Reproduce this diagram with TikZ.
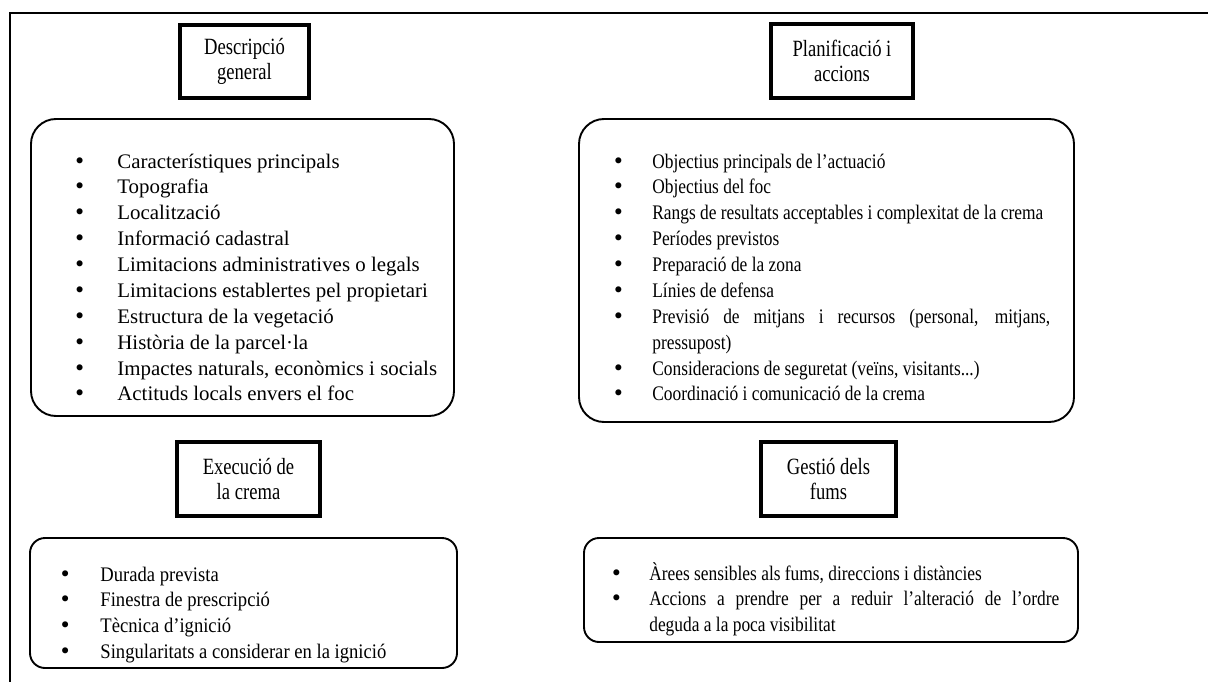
\documentclass[tikz,border=0pt]{standalone}
\usepackage{fontspec}
\setmainfont{Liberation Serif}
\newfontfamily\leftfont[FakeStretch=1.01]{Liberation Serif}
\newfontfamily\rightfont[FakeStretch=0.84]{Liberation Serif}
\newfontfamily\execfont[FakeStretch=0.90]{Liberation Serif}
\newfontfamily\headfont[FakeStretch=0.80]{Liberation Serif}
\newfontfamily\dotfont{DejaVu Sans}
\newcommand{\listsize}{\fontsize{12pt}{15pt}\selectfont}
\newlength{\bindent}
\newcommand{\bdot}{{\dotfont\textbullet}}
\newcommand{\bitem}{\par\noindent\hangindent=\bindent\hangafter=1\strut\makebox[\bindent][l]{\bdot}}

\begin{document}
\begin{tikzpicture}[x=0.58pt, y=-0.58pt,
    head/.style={draw, line width=2.3pt, align=center, inner sep=0pt,
                 font=\headfont\fontsize{13.5pt}{14.5pt}\selectfont},
    frame/.style={draw, line width=1.1pt, rounded corners=#1},
    list/.style={anchor=north west, inner sep=0pt, align=justify, text width=#1}]
\useasboundingbox (0,0) rectangle (1208,682);
% outer frame
\draw[line width=1.1pt] (1208,13) -- (10,13) -- (10,682);

% headings
\node[head, minimum width=75pt, minimum height=42.5pt] (desc) at (244.5,61.5) {Descripció\\general};
\node[head, minimum width=82.5pt, minimum height=43pt] (plan) at (842,61) {Planificació i\\accions};
\node[head, minimum width=83pt, minimum height=43pt] (exec) at (248.5,479) {Execució de\\la crema};
\node[head, minimum width=78.5pt, minimum height=43pt] (fums) at (828.5,479) {Gestió dels\\fums};

% frames
\draw[frame=14.5pt] (31,119) rectangle (454,416);
\draw[frame=14.5pt] (579,119) rectangle (1074,422);
\draw[frame=8.7pt] (30,538) rectangle (457,668);
\draw[frame=8.7pt] (584,538) rectangle (1078,642);

% lists
\node[list=216pt, font=\leftfont\listsize] (desclist) at (73.4,141.9) {\setlength{\bindent}{25.3pt}%
  \bitem Característiques principals
  \bitem Topografia
  \bitem Localització
  \bitem Informació cadastral
  \bitem Limitacions administratives o legals
  \bitem Limitacions establertes pel propietari
  \bitem Estructura de la vegetació
  \bitem Història de la parcel·la
  \bitem Impactes naturals, econòmics i socials
  \bitem Actituds locals envers el foc\par};
\node[list=254pt, font=\rightfont\listsize] (planlist) at (612,141.9) {\setlength{\bindent}{23.2pt}%
  \bitem Objectius principals de l’actuació
  \bitem Objectius del foc
  \bitem Rangs de resultats acceptables i complexitat de la crema
  \bitem Períodes previstos
  \bitem Preparació de la zona
  \bitem Línies de defensa
  \bitem Previsió de mitjans i recursos (personal, mitjans,\linebreak pressupost)
  \bitem Consideracions de seguretat (veïns, visitants...)
  \bitem Coordinació i comunicació de la crema\par};
\node[list=220pt, font=\execfont\listsize] (execlist) at (58.7,554.9) {\setlength{\bindent}{24pt}%
  \bitem Durada prevista
  \bitem Finestra de prescripció
  \bitem Tècnica d’ignició
  \bitem Singularitats a considerar en la ignició\par};
\node[list=260.4pt, font=\rightfont\listsize] (fumslist) at (610,553.9) {\setlength{\bindent}{22.6pt}%
  \bitem Àrees sensibles als fums, direccions i distàncies
  \bitem Accions a prendre per a reduir l’alteració de l’ordre\linebreak deguda a la poca visibilitat\par};
\end{tikzpicture}
\end{document}
